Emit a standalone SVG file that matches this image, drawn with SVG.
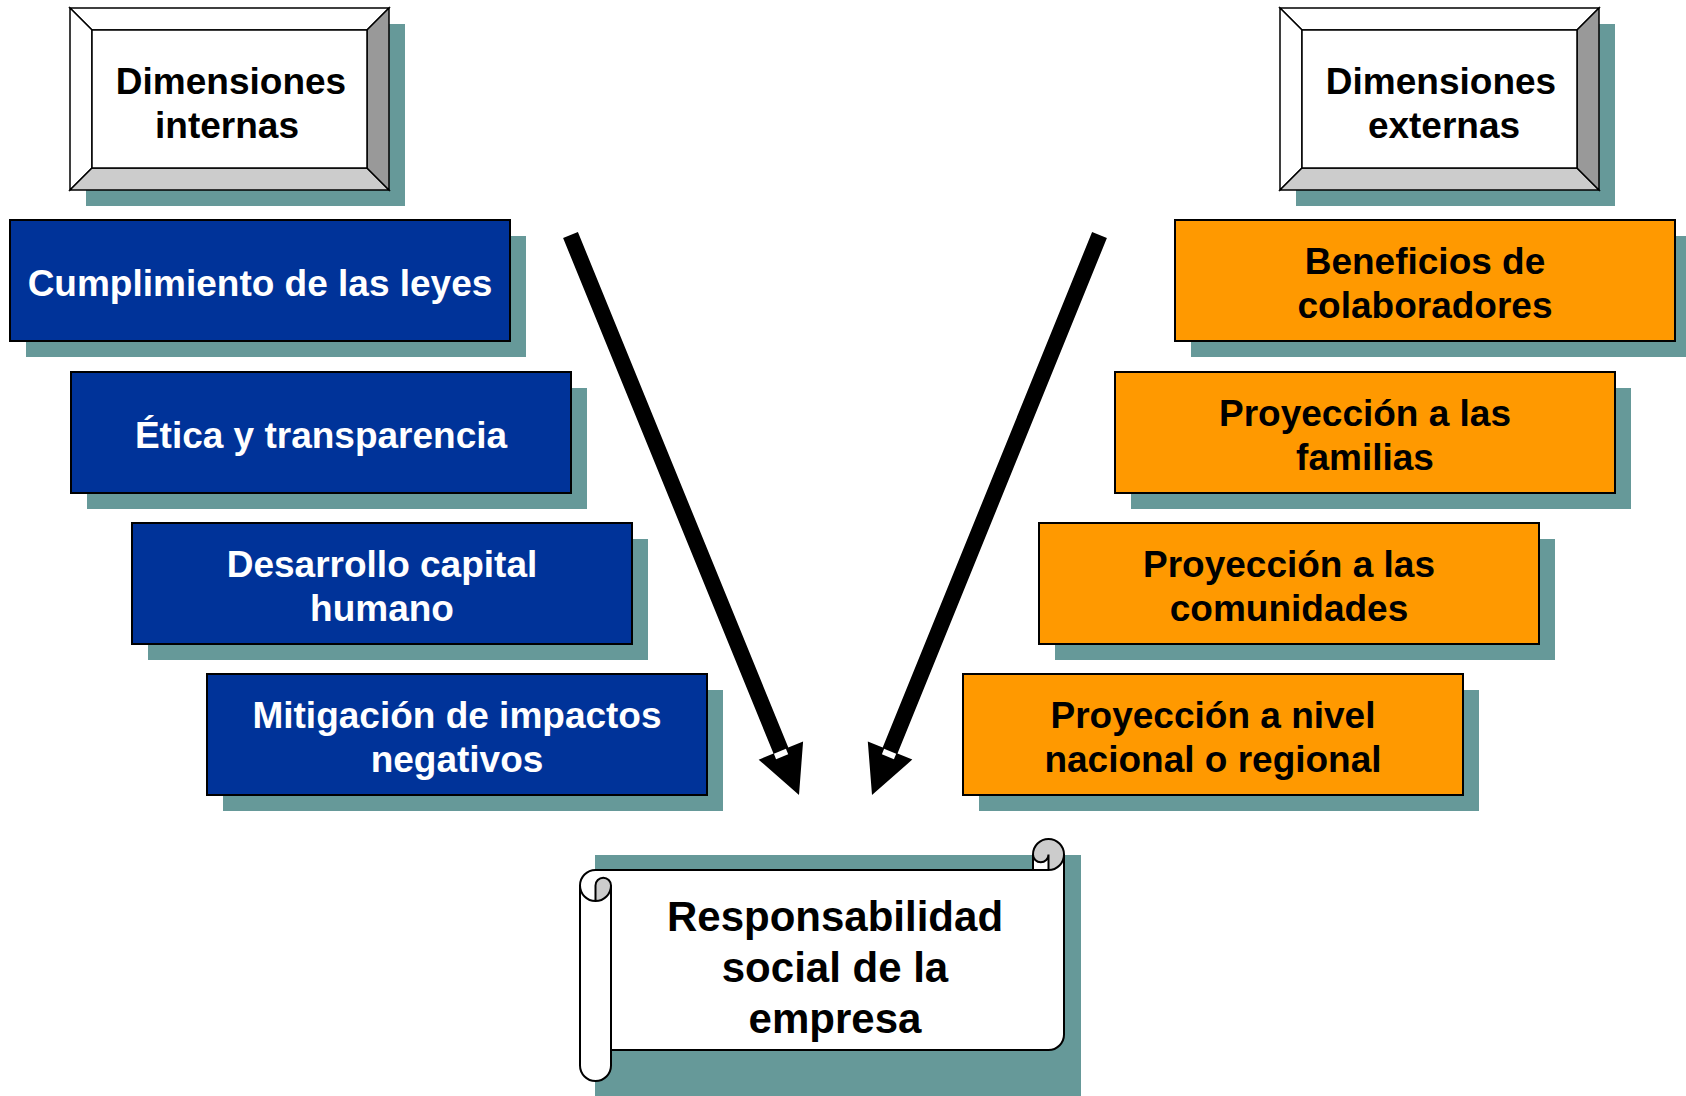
<svg xmlns="http://www.w3.org/2000/svg" width="1686" height="1096" viewBox="0 0 1686 1096">
<style>
  .sh { fill: #669999; }
  .blue { fill: #003399; stroke: #000; stroke-width: 2; }
  .orange { fill: #ff9900; stroke: #000; stroke-width: 2; }
  .bv { stroke: #000; stroke-width: 1.5; stroke-linejoin: miter; }
  .t { font-family: "Liberation Sans", Arial, sans-serif; font-weight: bold; font-size: 37px; text-anchor: middle; }
  .w { fill: #fff; }
  .k { fill: #000; }
  .big { font-size: 42px; }
  .ln { fill: none; stroke: #000; stroke-width: 2; }
</style>
<rect width="1686" height="1096" fill="#fff"/>

<g id="dim-internas">
  <rect class="sh" x="86" y="24" width="319" height="182"/>
  <polygon class="bv" fill="#fff" points="70,8 389,8 367,30 92,30"/>
  <polygon class="bv" fill="#fff" points="70,8 92,30 92,168 70,190"/>
  <polygon class="bv" fill="#cccccc" points="70,190 92,168 367,168 389,190"/>
  <polygon class="bv" fill="#999999" points="389,8 389,190 367,168 367,30"/>
  <rect class="bv" fill="#fff" x="92" y="30" width="275" height="138"/>
  <text class="t k" x="231" y="94">Dimensiones</text>
  <text class="t k" x="227" y="138">internas</text>
</g>

<g id="dim-externas">
  <rect class="sh" x="1296" y="24" width="319" height="182"/>
  <polygon class="bv" fill="#fff" points="1280,8 1599,8 1577,30 1302,30"/>
  <polygon class="bv" fill="#fff" points="1280,8 1302,30 1302,168 1280,190"/>
  <polygon class="bv" fill="#cccccc" points="1280,190 1302,168 1577,168 1599,190"/>
  <polygon class="bv" fill="#999999" points="1599,8 1599,190 1577,168 1577,30"/>
  <rect class="bv" fill="#fff" x="1302" y="30" width="275" height="138"/>
  <text class="t k" x="1441" y="94">Dimensiones</text>
  <text class="t k" x="1444" y="138">externas</text>
</g>

<g id="cumplimiento">
  <rect class="sh" x="26" y="236" width="500" height="121"/>
  <rect class="blue" x="10" y="220" width="500" height="121"/>
  <text class="t w" x="260" y="296">Cumplimiento de las leyes</text>
</g>
<g id="etica">
  <rect class="sh" x="87" y="388" width="500" height="121"/>
  <rect class="blue" x="71" y="372" width="500" height="121"/>
  <text class="t w" x="321" y="448">Ética y transparencia</text>
</g>
<g id="desarrollo">
  <rect class="sh" x="148" y="539" width="500" height="121"/>
  <rect class="blue" x="132" y="523" width="500" height="121"/>
  <text class="t w" x="382" y="577">Desarrollo capital</text>
  <text class="t w" x="382" y="621">humano</text>
</g>
<g id="mitigacion">
  <rect class="sh" x="223" y="690" width="500" height="121"/>
  <rect class="blue" x="207" y="674" width="500" height="121"/>
  <text class="t w" x="457" y="728">Mitigación de impactos</text>
  <text class="t w" x="457" y="772">negativos</text>
</g>

<g id="beneficios">
  <rect class="sh" x="1191" y="236" width="500" height="121"/>
  <rect class="orange" x="1175" y="220" width="500" height="121"/>
  <text class="t k" x="1425" y="274">Beneficios de</text>
  <text class="t k" x="1425" y="318">colaboradores</text>
</g>
<g id="familias">
  <rect class="sh" x="1131" y="388" width="500" height="121"/>
  <rect class="orange" x="1115" y="372" width="500" height="121"/>
  <text class="t k" x="1365" y="426">Proyección a las</text>
  <text class="t k" x="1365" y="470">familias</text>
</g>
<g id="comunidades">
  <rect class="sh" x="1055" y="539" width="500" height="121"/>
  <rect class="orange" x="1039" y="523" width="500" height="121"/>
  <text class="t k" x="1289" y="577">Proyección a las</text>
  <text class="t k" x="1289" y="621">comunidades</text>
</g>
<g id="nacional">
  <rect class="sh" x="979" y="690" width="500" height="121"/>
  <rect class="orange" x="963" y="674" width="500" height="121"/>
  <text class="t k" x="1213" y="728">Proyección a nivel</text>
  <text class="t k" x="1213" y="772">nacional o regional</text>
</g>

<g id="connectors">
  <polygon fill="#000" points="563.1,238 577.9,232 788.3,747.6 803.1,741.5 799,795 758.7,759.7 773.5,753.6"/>
  <polygon fill="#fff" points="785.9,748.8 788.2,754.3 776.1,759.3 773.9,753.8"/>
  <polygon fill="#000" points="1092.1,232 1106.9,238 897.5,753.5 912.3,759.6 872,795 867.8,741.5 882.7,747.5"/>
  <polygon fill="#fff" points="896.2,753.7 893.9,759.2 881.9,754.3 884.1,748.8"/>
</g>

<g id="rse">
  <rect class="sh" x="595" y="855" width="486" height="241"/>
  <path fill="#fff" d="M580,885.5 A15.5,15.5 0 0 1 595.5,870 L1033,870 L1033,854.5 A15.5,15.5 0 0 1 1064,854.5 L1064,1034.5 A15.5,15.5 0 0 1 1048.5,1050 L611,1050 L611,1065.5 A15.5,15.5 0 0 1 580,1065.5 Z"/>
  <path fill="#cccccc" d="M1048.5,870 A15.5,15.5 0 1 0 1033,854.5 A7.75,7.75 0 0 0 1048.5,854.5 Z"/>
  <path fill="#cccccc" d="M595.5,901 A15.5,15.5 0 0 0 611,885.5 A7.75,7.75 0 0 0 595.5,885.5 Z"/>
  <path class="ln" d="M580,885.5 A15.5,15.5 0 0 1 595.5,870 L1033,870 L1033,854.5 A15.5,15.5 0 0 1 1064,854.5 L1064,1034.5 A15.5,15.5 0 0 1 1048.5,1050 L611,1050 L611,1065.5 A15.5,15.5 0 0 1 580,1065.5 Z"/>
  <path class="ln" d="M1033,870 L1048.5,870 A15.5,15.5 0 0 0 1064,854.5"/>
  <path class="ln" d="M1048.5,870 L1048.5,854.5 A7.75,7.75 0 0 1 1033,854.5"/>
  <path class="ln" d="M595.5,901 L595.5,885.5 A7.75,7.75 0 0 1 611,885.5 A15.5,15.5 0 0 1 580,885.5"/>
  <path class="ln" d="M611,885.5 L611,1050"/>
  <text class="t k big" x="835" y="931">Responsabilidad</text>
  <text class="t k big" x="835" y="982">social de la</text>
  <text class="t k big" x="835" y="1033">empresa</text>
</g>
</svg>
